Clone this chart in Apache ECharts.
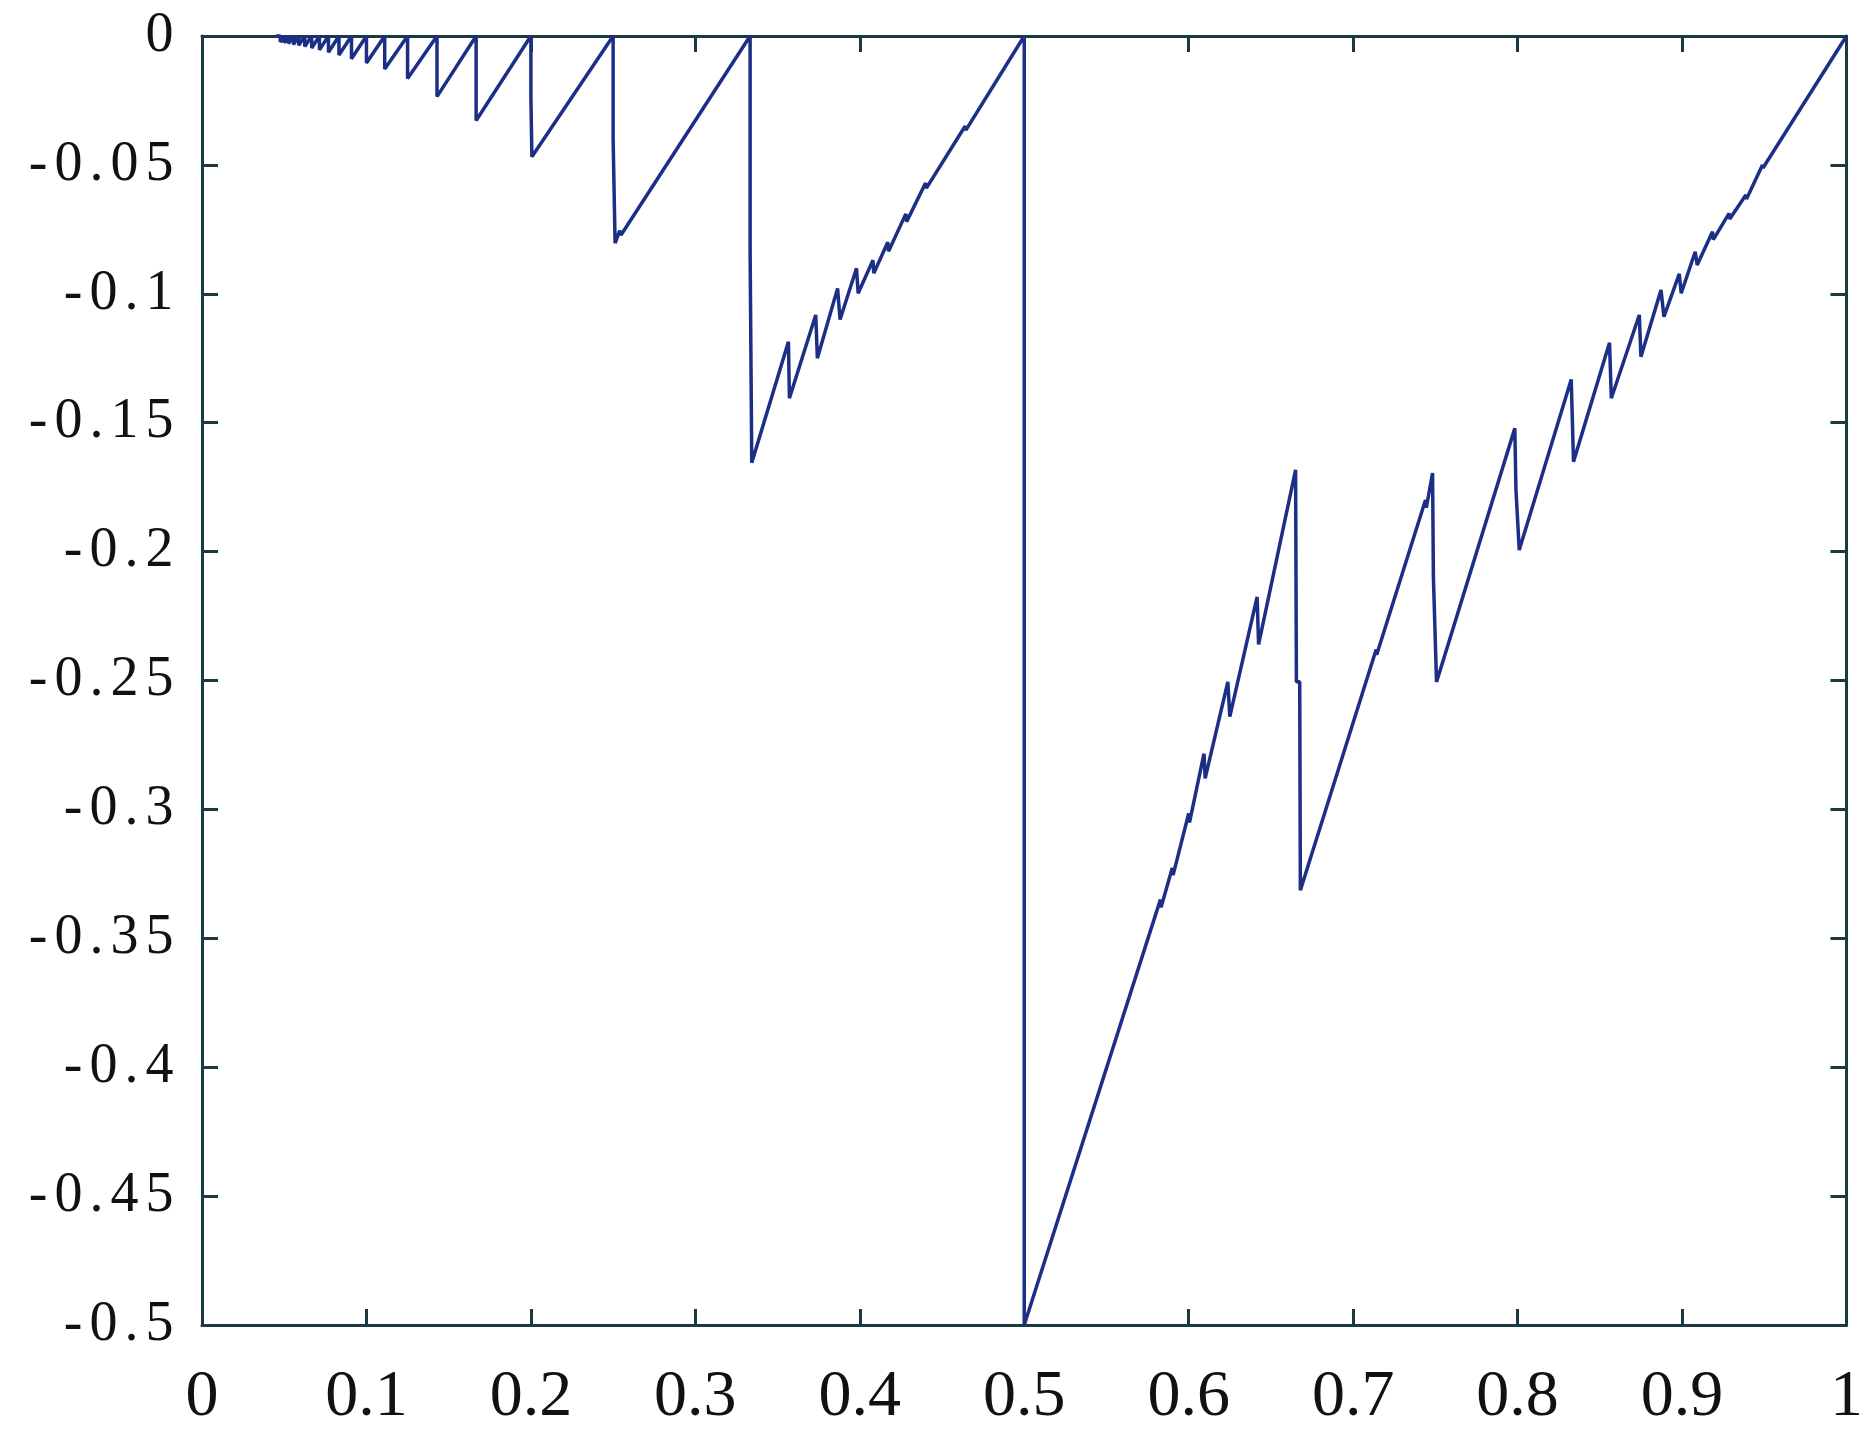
<!DOCTYPE html>
<html>
<head>
<meta charset="utf-8">
<script src="https://cdn.jsdelivr.net/npm/echarts@6/dist/echarts.min.js"></script>
<style>
  html, body { margin: 0; padding: 0; background: #ffffff; }
  #chart { width: 1866px; height: 1440px; }
</style>
</head>
<body>
<div id="chart"></div>
<script>
// ---- Data ----
// Axis ticks
const xTicks = [0, 0.1, 0.2, 0.3, 0.4, 0.5, 0.6, 0.7, 0.8, 0.9, 1];
const yTicks = [0, -0.05, -0.1, -0.15, -0.2, -0.25, -0.3, -0.35, -0.4, -0.45, -0.5];

// Small teeth near the origin: drop positions and drop depths
const smallTeethX = [0.0476, 0.0500, 0.0526, 0.0556, 0.0588, 0.0625, 0.0667, 0.0714,
                     0.0769, 0.0833, 0.0909, 0.1000, 0.1111, 0.1250, 0.1429, 0.1667];
const smallTeethDepth = [-0.0023, -0.0026, -0.0029, -0.0033, -0.0036, -0.0041, -0.0047, -0.0054,
                         -0.0063, -0.0074, -0.0088, -0.0105, -0.0128, -0.0165, -0.0235, -0.0328];

// Tooth at 1/5
const toothFifth = [[0.2000, 0], [0.2000, -0.0235], [0.2006, -0.0235], [0.2006, -0.0468]];

// Tooth at 1/4
const toothQuarter = [[0.2500, 0], [0.2500, -0.0400], [0.2512, -0.0400], [0.2512, -0.0804],
                      [0.2540, -0.0755], [0.2548, -0.0772]];

// Tooth at 1/3 with its rise to 1/2
const toothThird = [[0.3333, 0], [0.3333, -0.0830], [0.3343, -0.0830], [0.3343, -0.1655],
  [0.3566, -0.1186], [0.3572, -0.1405],
  [0.3732, -0.1082], [0.3742, -0.1250],
  [0.3865, -0.0979], [0.3880, -0.1100],
  [0.3980, -0.0901], [0.3990, -0.0998],
  [0.4080, -0.0870], [0.4085, -0.0920],
  [0.4170, -0.0800], [0.4175, -0.0835],
  [0.4280, -0.0690], [0.4285, -0.0720],
  [0.4400, -0.0570], [0.4405, -0.0590],
  [0.4640, -0.0350], [0.4645, -0.0365]];

// Big drop at 1/2 and rise to 2/3
const toothHalf = [[0.5000, 0], [0.5000, -0.5000],
  [0.5828, -0.3350], [0.5832, -0.3380],
  [0.5900, -0.3227], [0.5905, -0.3255],
  [0.6000, -0.3016], [0.6005, -0.3050],
  [0.6093, -0.2784], [0.6100, -0.2880],
  [0.6238, -0.2505], [0.6250, -0.2640],
  [0.6416, -0.2176], [0.6425, -0.2360],
  [0.6650, -0.1683]];

// Drop at 2/3 and rise to 3/4
const toothTwoThirds = [[0.6655, -0.2505], [0.6675, -0.2505], [0.6679, -0.3314],
  [0.7140, -0.2380], [0.7143, -0.2400],
  [0.7440, -0.1800], [0.7445, -0.1830],
  [0.7483, -0.1695]];

// Drops at 3/4, 4/5, 5/6, ... and the final rise to 1
const toothRight = [[0.7488, -0.2100], [0.7500, -0.2100], [0.7507, -0.2506],
  [0.7983, -0.1522], [0.7990, -0.1760], [0.8000, -0.1760], [0.8010, -0.1994],
  [0.8326, -0.1332], [0.8340, -0.1651],
  [0.8559, -0.1190], [0.8570, -0.1405],
  [0.8740, -0.1082], [0.8750, -0.1244],
  [0.8872, -0.0985], [0.8890, -0.1089],
  [0.8983, -0.0923], [0.8995, -0.0998],
  [0.9080, -0.0837], [0.9092, -0.0888],
  [0.9185, -0.0759], [0.9190, -0.0790],
  [0.9286, -0.0688], [0.9290, -0.0710],
  [0.9388, -0.0617], [0.9392, -0.0632],
  [0.9489, -0.0500], [0.9492, -0.0512],
  [1.0000, 0]];

// ---- Build the polyline from the read values ----
const curve = [[0.0450, 0]];
for (let i = 0; i < smallTeethX.length; i++) {
  curve.push([smallTeethX[i], 0]);
  curve.push([smallTeethX[i], smallTeethDepth[i]]);
}
const allPts = curve.concat(toothFifth, toothQuarter, toothThird, toothHalf, toothTwoThirds, toothRight);

const serif = "'Liberation Serif', 'Times New Roman', serif";
const axisColor = '#183a40';

function fmt(v) {
  const r = Math.round(v * 100) / 100;
  if (r === 0) return '0';
  return String(r);
}

const chart = echarts.init(document.getElementById('chart'), null, { renderer: 'canvas' });

const axisLine = { show: true, onZero: false, lineStyle: { color: axisColor, width: 3 } };
const axisTick = { show: true, inside: true, length: 16, lineStyle: { color: axisColor, width: 3 } };

chart.setOption({
  animation: false,
  backgroundColor: '#ffffff',
  grid: { left: 202, top: 36, width: 1649, height: 1289, containLabel: false },
  xAxis: [
    {
      type: 'value', min: 0, max: 1, interval: 0.1, position: 'bottom',
      axisLine: axisLine, axisTick: axisTick, splitLine: { show: false },
      axisLabel: {
        show: true, margin: 40, fontFamily: serif, fontSize: 66, color: '#111111',
        formatter: function (v) { return xTicks.some(t => Math.abs(t - v) < 1e-6) ? fmt(v) : ''; }
      }
    },
    {
      type: 'value', min: 0, max: 1, interval: 0.1, position: 'top',
      axisLine: axisLine, axisTick: axisTick, splitLine: { show: false },
      axisLabel: { show: false }
    }
  ],
  yAxis: [
    {
      type: 'value', min: -0.5, max: 0, interval: 0.05, position: 'left',
      axisLine: axisLine, axisTick: axisTick, splitLine: { show: false },
      axisLabel: {
        show: true, margin: 25,
        formatter: function (v) {
          if (!yTicks.some(t => Math.abs(t - v) < 1e-6)) return '';
          return fmt(v).split('').map(c => '{c|' + c + '}').join('');
        },
        rich: { c: { fontFamily: serif, fontSize: 56, color: '#111111', padding: [0, 3.5, 0, 3.5] } }
      }
    },
    {
      type: 'value', min: -0.5, max: 0, interval: 0.05, position: 'right',
      axisLine: axisLine, axisTick: axisTick, splitLine: { show: false },
      axisLabel: { show: false }
    }
  ],
  series: [
    {
      type: 'line',
      xAxisIndex: 0, yAxisIndex: 0,
      data: allPts,
      showSymbol: false,
      symbol: 'none',
      clip: false,
      lineStyle: { color: '#1c2e85', width: 3.5 },
      z: 3
    }
  ]
});
</script>
</body>
</html>
